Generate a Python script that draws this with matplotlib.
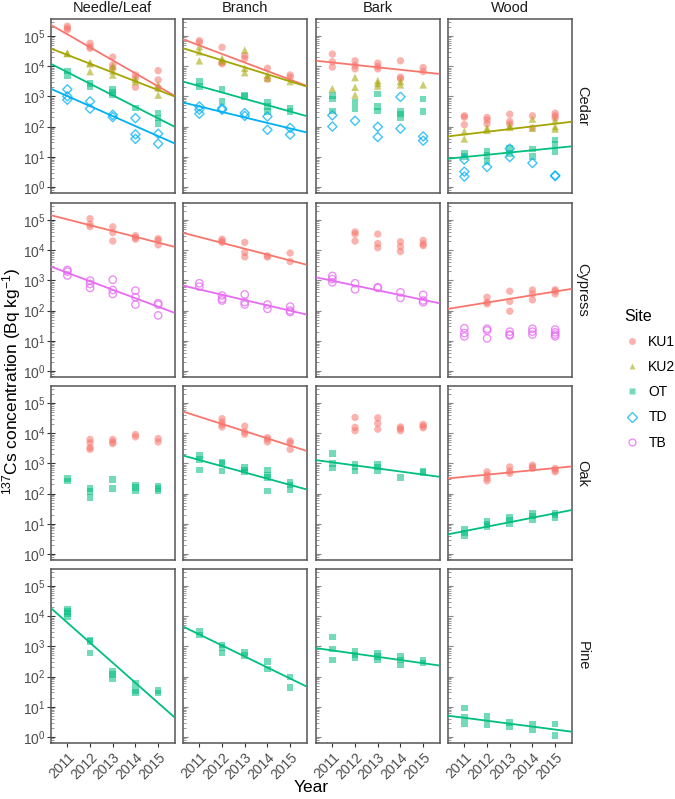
import numpy as np
import matplotlib
matplotlib.use("Agg")
import matplotlib.pyplot as plt
from matplotlib.lines import Line2D
from matplotlib.ticker import LogLocator, NullFormatter, FixedLocator

plt.rcParams['font.family'] = ['Liberation Sans', 'DejaVu Sans']
plt.rcParams['mathtext.fontset'] = 'custom'
plt.rcParams['mathtext.rm'] = 'Liberation Sans'
plt.rcParams['mathtext.it'] = 'Liberation Sans'

YEARS = [2011, 2012, 2013, 2014, 2015]
ORGANS = ["Needle/Leaf", "Branch", "Bark", "Wood"]
SPECIES = ["Cedar", "Cypress", "Oak", "Pine"]
SITES = ["KU1", "KU2", "OT", "TD", "TB"]
SITE_COLORS = ["#F8766D", "#A3A500", "#00BF7D", "#00B0F6", "#E76BF3"]

# ---- measured concentrations: organ -> site -> list per year (2011..2015)
cedar = {
    "Needle/Leaf": {
        "KU1": [[2.1e5, 1.8e5, 1.6e5], [5.7e4, 4.4e4, 3.9e4], [2.0e4, 1.1e4, 8.5e3], [5.1e3, 4.0e3, 2.0e3], [7.1e3, 3.5e3, 1.9e3]],
        "KU2": [[2.7e4, 2.6e4], [1.3e4, 1.2e4, 6.6e3], [1.0e4, 7.0e3, 5.1e3], [3.7e3, 3.1e3], [2.4e3, 1.9e3, 1.1e3]],
        "OT": [[6.9e3, 4.8e3], [2.7e3, 2.1e3], [1.7e3, 1.35e3, 1.1e3], [410], [280, 190, 124]],
        "TD": [[1.7e3, 1.0e3, 770], [680, 390], [245, 205], [190, 55, 39], [58, 27]],
    },
    "Branch": {
        "KU1": [[7.0e4, 6.0e4], [4.2e4, 1.3e4, 1.2e4], [2.2e4, 1.8e4], [8.5e3, 3.7e3], [5.1e3, 4.3e3]],
        "KU2": [[4.4e4, 3.0e4, 1.5e4], [1.8e4, 1.5e4], [3.4e4, 8.5e3, 6.1e3], [5.1e3, 4.0e3], [3.1e3]],
        "OT": [[3.1e3, 2.1e3], [1.7e3, 680], [1.1e3, 1.0e3], [630, 460, 320], [410, 320]],
        "TD": [[460, 360, 265], [400, 360], [280, 225], [215, 78], [90, 54]],
    },
    "Bark": {
        "KU1": [[2.5e4, 1.4e4, 9.3e3], [1.5e4, 1.05e4, 8.1e3], [1.25e4, 9.7e3, 8.1e3], [1.5e4, 4.3e3, 3.8e3], [9.0e3, 6.6e3]],
        "KU2": [[1.8e3], [4.2e3, 2.0e3, 1.1e3], [3.3e3, 2.7e3, 2.2e3], [3.1e3, 2.4e3], [2.4e3]],
        "OT": [[1.05e3, 830, 330], [650, 390], [1.2e3, 460, 330], [330, 260, 200], [830, 315]],
        "TD": [[235, 100], [155], [98, 45], [960, 85], [47, 34]],
    },
    "Wood": {
        "KU1": [[227, 204, 115], [200, 166, 123], [257, 148, 120], [227, 89], [277, 227, 190]],
        "KU2": [[69, 39], [89, 75], [107, 94], [177, 89], [160, 100, 83]],
        "OT": [[13, 10], [15, 11, 7], [18.5, 13], [18, 10], [36, 25, 15]],
        "TD": [[8, 3.2, 2.2], [4.6], [18.5, 9.8], [6.2], [2.4, 2.3]],
    },
}
cypress = {
    "Needle/Leaf": {
        "KU1": [[], [1.1e5, 7.2e4, 6.0e4], [5.9e4, 3.8e4, 2.0e4], [3.0e4, 2.6e4, 2.3e4], [2.4e4, 2.1e4, 1.5e4]],
        "TB": [[2.2e3, 1.95e3, 1.45e3], [980, 760, 560], [1.05e3, 480, 355], [457, 275, 158], [174, 158, 69]],
    },
    "Branch": {
        "KU1": [[], [2.3e4, 2.0e4, 1.8e4], [1.8e4, 8.4e3, 6.0e3], [6.5e3, 5.9e3], [8.0e3, 4.2e3]],
        "TB": [[800, 620], [315, 245, 215], [340, 190, 158], [158, 114], [135, 100, 89]],
    },
    "Bark": {
        "KU1": [[], [4.0e4, 3.4e4, 2.0e4], [3.4e4, 1.65e4, 1.2e4], [1.9e4, 1.3e4, 9.0e3], [2.1e4, 1.6e4, 1.4e4]],
        "TB": [[1.4e3, 1.1e3, 860], [800, 500], [590, 560], [400, 263], [330, 215, 188]],
    },
    "Wood": {
        "KU1": [[], [275, 188, 166], [437, 200, 95], [480, 355, 225], [490, 437, 355]],
        "TB": [[26, 18, 14], [25, 22, 12], [20, 16, 15], [25, 20, 16], [23.5, 19, 16, 14]],
    },
}
oak = {
    "Needle/Leaf": {
        "KU1": [[], [6.2e3, 4.8e3, 3.3e3, 2.9e3], [6.2e3, 5.1e3, 4.5e3], [9.0e3, 7.5e3], [6.6e3, 5.1e3]],
        "OT": [[316, 263], [148, 115, 74], [295, 148], [190, 160, 123], [178, 148, 123]],
    },
    "Branch": {
        "KU1": [[], [3.0e4, 2.3e4, 1.9e4, 1.6e4], [1.7e4, 1.1e4, 9.2e3], [7.1e3, 6.2e3, 5.1e3], [5.5e3, 4.8e3, 2.9e3]],
        "OT": [[1.85e3, 1.35e3, 600], [1.1e3, 990, 550], [730, 600, 525], [600, 410, 340, 120], [245, 190, 138]],
    },
    "Bark": {
        "KU1": [[], [3.3e4, 1.55e4, 1.2e4], [3.2e4, 2.1e4, 1.35e4], [1.6e4, 1.4e4, 1.2e4], [1.95e4, 1.7e4, 1.5e4]],
        "OT": [[2.1e3, 1.0e3, 710], [940, 760, 560], [940, 760, 575], [340], [560, 490]],
    },
    "Wood": {
        "KU1": [[], [525, 410, 316, 263], [760, 550, 465], [870, 760, 680], [680, 600, 525]],
        "OT": [[6.5, 5.0, 3.9], [11.7, 9.5, 8.0], [16, 13.2, 9.8], [22, 18, 14], [23, 19.5, 16]],
    },
}
pine = {
    "Needle/Leaf": {
        "OT": [[1.7e4, 1.4e4, 1.2e4, 9.6e3], [1.6e3, 1.45e3, 600], [148, 115, 85], [58, 34, 30], [34, 28]],
    },
    "Branch": {
        "OT": [[3.1e3, 2.4e3], [1.1e3, 910, 600], [620, 490], [316, 178], [96, 44]],
    },
    "Bark": {
        "OT": [[2.0e3, 830, 355], [675, 525, 410], [600, 460, 355], [460, 355, 245], [355, 280]],
    },
    "Wood": {
        "OT": [[9.1, 4.5, 2.8], [4.8, 2.6], [3.0, 2.1], [2.7, 1.8], [2.7, 1.1]],
    },
}

# ---- fitted (log-linear) trend values read at 2011 and 2015
cedar_fit = {
    "Needle/Leaf": {"KU1": (1.13e5, 2.13e3), "KU2": (2.35e4, 1.61e3), "OT": (6.30e3, 186), "TD": (1.02e3, 48.1)},
    "Branch": {"KU1": (4.85e4, 3.56e3), "KU2": (2.66e4, 3.12e3), "OT": (2.18e3, 315), "TD": (463, 86.5)},
    "Bark": {"KU1": (1.32e4, 6.31e3)},
    "Wood": {"KU2": (54.7, 124), "OT": (9.77, 19.5)},
}
cypress_fit = {
    "Needle/Leaf": {"KU1": (1.04e5, 1.77e4), "TB": (1.78e3, 134)},
    "Branch": {"KU1": (2.71e4, 4.55e3), "TB": (500, 98.9)},
    "Bark": {"TB": (968, 226)},
    "Wood": {"KU1": (139, 426)},
}
oak_fit = {
    "Needle/Leaf": {},
    "Branch": {"KU1": (3.48e4, 3.85e3), "OT": (1.29e3, 193)},
    "Bark": {"OT": (1.08e3, 424)},
    "Wood": {"KU1": (357, 698), "OT": (5.70, 22.2)},
}
pine_fit = {
    "Needle/Leaf": {"OT": (6.08e3, 13.4)},
    "Branch": {"OT": (2.47e3, 85.9)},
    "Bark": {"OT": (731, 276)},
    "Wood": {"OT": (4.31, 1.76)},
}

ALL_DATA = [cedar, cypress, oak, pine]
ALL_FIT = [cedar_fit, cypress_fit, oak_fit, pine_fit]

# ---- styling
W, H = 675, 799
fig = plt.figure(figsize=(W / 100, H / 100), dpi=100)

XMIN, XMAX = 2010.28, 2015.72
YMIN, YMAX = 10 ** -0.2, 10 ** 5.56
col_left = [51, 183, 316, 448]
pw = 123.5
row_top = [19, 203, 386, 569]
ph = 174

style = {
    "KU1": dict(marker="o", s=28, filled=True),
    "KU2": dict(marker="^", s=30, filled=True),
    "OT": dict(marker="s", s=22, filled=True),
    "TD": dict(marker="D", s=22, filled=False),
    "TB": dict(marker="o", s=28, filled=False),
}
color_of = dict(zip(SITES, SITE_COLORS))
FRAME = "#555555"
TICKC = "#333333"
LABC = "#4D4D4D"

for r, sp in enumerate(SPECIES):
    for c, org in enumerate(ORGANS):
        ax = fig.add_axes([col_left[c] / W, 1 - (row_top[r] + ph) / H, pw / W, ph / H])
        ax.set_yscale("log")
        ax.set_xlim(XMIN, XMAX)
        ax.set_ylim(YMIN, YMAX)
        for sp_ in ax.spines.values():
            sp_.set_color(FRAME)
            sp_.set_linewidth(1.1)
        data = ALL_DATA[r].get(org, {})
        for site in SITES:
            if site not in data:
                continue
            st = style[site]
            col = color_of[site]
            for yi, yr in enumerate(YEARS):
                vals = data[site][yi]
                if not vals:
                    continue
                if st["filled"]:
                    ax.scatter([yr] * len(vals), vals, marker=st["marker"], s=st["s"],
                               facecolor=col, edgecolor="none", alpha=0.55, zorder=3)
                else:
                    ax.scatter([yr] * len(vals), vals, marker=st["marker"], s=st["s"],
                               facecolor="none", edgecolor=col, linewidths=1.0, alpha=0.75, zorder=3)
        fits = ALL_FIT[r].get(org, {})
        for site, (v0, v1) in fits.items():
            xs = np.array([XMIN, XMAX])
            slope = (np.log10(v1) - np.log10(v0)) / (YEARS[-1] - YEARS[0])
            ys = 10 ** (np.log10(v0) + slope * (xs - YEARS[0]))
            ax.plot(xs, ys, color=color_of[site], lw=1.3, zorder=4, solid_capstyle="butt")

        ax.yaxis.set_major_locator(FixedLocator([10.0 ** k for k in range(0, 6)]))
        ax.yaxis.set_minor_locator(LogLocator(base=10, subs=np.arange(2, 10), numticks=20))
        ax.yaxis.set_minor_formatter(NullFormatter())
        ax.set_xticks(YEARS)
        ax.tick_params(axis="y", which="minor", direction="in", length=2, width=0.6, color="#888888", left=True, right=False)
        if c == 0:
            ax.set_yticklabels([r"$10^{%d}$" % k for k in range(0, 6)])
            ax.tick_params(axis="y", which="major", direction="inout", length=6, width=0.8,
                           color=TICKC, labelsize=10, labelcolor=LABC, pad=1)
        else:
            ax.tick_params(axis="y", which="major", direction="in", length=3.5, width=0.8,
                           color="#888888", labelleft=False)
        if r == 3:
            ax.set_xticklabels([str(y) for y in YEARS], rotation=45, ha="right", va="top",
                               rotation_mode="anchor")
            ax.tick_params(axis="x", which="major", direction="out", length=3, width=0.8,
                           color=TICKC, labelsize=10, labelcolor=LABC, pad=2)
        else:
            ax.tick_params(axis="x", which="major", length=0, labelbottom=False)
        ax.tick_params(axis="x", which="minor", length=0)

# strip labels
for c, org in enumerate(ORGANS):
    fig.text((col_left[c] + pw / 2) / W, 1 - 8 / H, org, ha="center", va="center", fontsize=10.5, color="#1A1A1A")
for r, sp in enumerate(SPECIES):
    fig.text((col_left[3] + pw + 11) / W, 1 - (row_top[r] + ph / 2) / H, sp, ha="center", va="center",
             rotation=-90, fontsize=10.5, color="#1A1A1A")

fig.text(12 / W, 1 - 381 / H, r"$^{137}$Cs concentration (Bq kg$^{-1}$)", rotation=90,
         ha="center", va="center", fontsize=12.5)
fig.text(311 / W, 1 - 788 / H, "Year", ha="center", va="center", fontsize=12.5)

# legend
handles = []
for site in SITES:
    st = style[site]
    col = color_of[site]
    if st["filled"]:
        h = Line2D([], [], linestyle="none", marker=st["marker"], markersize=5,
                   markerfacecolor=col, markeredgecolor="none", alpha=0.55)
    else:
        h = Line2D([], [], linestyle="none", marker=st["marker"], markersize=5,
                   markerfacecolor="none", markeredgecolor=col, markeredgewidth=1.0, alpha=0.75)
    handles.append(h)
leg = fig.legend(handles, SITES, title="Site", loc="upper left",
                 bbox_to_anchor=(624 / W, 1 - 309 / H), frameon=False, fontsize=10,
                 title_fontsize=11.5, labelspacing=0.8, handlelength=1.2, handletextpad=0.55,
                 borderpad=0.0, borderaxespad=0.0, alignment="left")

fig.savefig("out.png", dpi=100)
